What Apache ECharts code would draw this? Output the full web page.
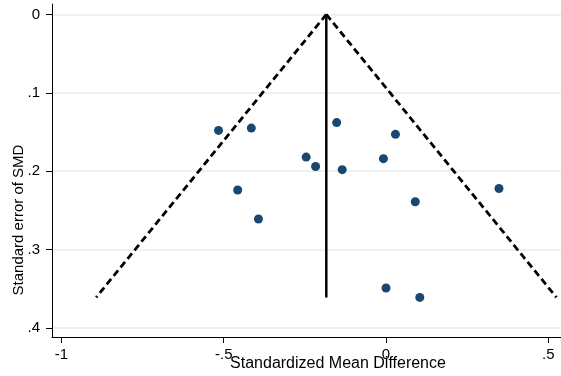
<!DOCTYPE html>
<html>
<head>
<meta charset="utf-8">
<script src="https://cdn.jsdelivr.net/npm/echarts@6/dist/echarts.min.js"></script>
<style>
  html, body { margin: 0; padding: 0; background: #fff; }
  #chart { width: 561px; height: 376px; }
</style>
</head>
<body>
<div id="chart"></div>
<script>
// study estimates (standardized mean difference) and their standard errors
const smd = [-0.516, -0.415, -0.457, -0.393, -0.246, -0.217, -0.152, -0.135, -0.008, 0.029, 0.090, 0.348, 0.000, 0.104]
const se = [0.148, 0.145, 0.224, 0.261, 0.182, 0.194, 0.138, 0.198, 0.184, 0.153, 0.239, 0.222, 0.349, 0.361]

// pooled estimate and pseudo 95% limits
const pooled = [[-0.184, 0], [-0.184, 0.361]]
const limitLeft = [[-0.184, 0], [-0.893, 0.361]]
const limitRight = [[-0.184, 0], [0.525, 0.361]]

const xTicks = [-1, -0.5, 0, 0.5]
const yTicks = [0, 0.1, 0.2, 0.3, 0.4]

const fmt = (v) => {
  if (v === 0) return '0'
  return String(v).replace(/^(-?)0\./, '$1.')
}

const font = '"Liberation Sans", Arial, Helvetica, sans-serif'
const chart = echarts.init(document.getElementById('chart'))

chart.setOption({
  animation: false,
  backgroundColor: '#fff',
  textStyle: { fontFamily: font },
  grid: { left: 52, right: 0, top: 4, bottom: 39 },
  xAxis: {
    type: 'value',
    min: -1.029,
    max: 0.539,
    axisLine: { show: true, onZero: false, lineStyle: { color: '#000', width: 1 } },
    axisTick: { show: true, length: 6, customValues: xTicks, lineStyle: { color: '#000' } },
    axisLabel: { customValues: xTicks, formatter: fmt, color: '#000', fontSize: 15, margin: 10, fontFamily: font },
    splitLine: { show: false },
  },
  yAxis: {
    type: 'value',
    inverse: true,
    min: -0.0133,
    max: 0.4115,
    axisLine: { show: true, onZero: false, lineStyle: { color: '#000', width: 1 } },
    axisTick: { show: true, length: 6, customValues: yTicks, lineStyle: { color: '#000' } },
    axisLabel: { customValues: yTicks, formatter: fmt, color: '#000', fontSize: 15, margin: 12, fontFamily: font },
    splitLine: { show: true, lineStyle: { color: '#eaf2f3', width: 2 } },
  },
  graphic: [
    {
      type: 'text', x: 338, y: 364,
      style: { text: 'Standardized Mean Difference', font: '16px ' + font, fill: '#000', align: 'center', verticalAlign: 'middle' },
    },
    {
      type: 'text', x: 19, y: 220, rotation: Math.PI / 2,
      style: { text: 'Standard error of SMD', font: '15px ' + font, fill: '#000', align: 'center', verticalAlign: 'middle' },
    },
  ],
  series: [
    {
      type: 'line', data: limitLeft, symbol: 'none', silent: true,
      lineStyle: { color: '#000', width: 2.8, type: [7, 4] },
    },
    {
      type: 'line', data: limitRight, symbol: 'none', silent: true,
      lineStyle: { color: '#000', width: 2.8, type: [7, 4] },
    },
    {
      type: 'line', data: pooled, symbol: 'none', silent: true,
      lineStyle: { color: '#000', width: 2.5 },
    },
    {
      type: 'scatter',
      data: smd.map((v, i) => [v, se[i]]),
      symbol: 'circle',
      symbolSize: 9,
      itemStyle: { color: '#1a476f', opacity: 1 },
      z: 5,
    },
  ],
})
</script>
</body>
</html>
